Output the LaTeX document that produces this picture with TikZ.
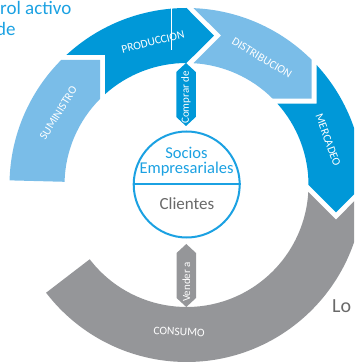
\documentclass[tikz,border=0pt]{standalone}
\usepackage{fontspec}
\setmainfont{Carlito}
\definecolor{dblue}{RGB}{0,152,216}
\definecolor{lblue}{RGB}{122,189,232}
\definecolor{cgrey}{RGB}{149,150,153}
\definecolor{tblue}{RGB}{27,161,226}
\definecolor{tgrey}{RGB}{105,105,105}
\newcommand\ringseg[3]{%
  \fill[#1] ({#2-2.31}:177) arc[start angle={#2-2.31}, end angle={#3}, radius=177]
    -- ({#3-10.42}:152) -- ({#3}:122)
    arc[start angle={#3}, end angle={#2-3.2}, radius=122]
    -- ({#2-13}:153.43) -- cycle;}
\begin{document}
\begin{tikzpicture}[x=1pt,y=1pt,
  seglbl/.style={text=white, inner sep=0pt, font=\fontsize{11.5}{13}\selectfont},
  arrlbl/.style={text=white, inner sep=0pt, rotate=90, font=\fontsize{11}{13}\selectfont}]
\useasboundingbox (0,0) rectangle (354,362);
\clip (0,0) rectangle (354,362);
\begin{scope}[shift={(186.5,177)}]
  % SUMINISTRO
  \fill[lblue] (178.5:177) arc[start angle=178.5, end angle=135, radius=177]
    -- (124.58:152) -- (135:122) arc[start angle=135, end angle=178.5, radius=122] -- cycle;
  \ringseg{dblue}{135}{90}
  \ringseg{lblue}{90}{45}
  \ringseg{dblue}{45}{0}
  % CONSUMO
  \fill[cgrey] (-2.31:177) arc[start angle=-2.31, end angle=-142.5, radius=177]
    -- (-142.5:122) arc[start angle=-142.5, end angle=-3.2, radius=122]
    -- (-13:153.43) -- cycle;
  \node[seglbl, rotate=58] (sum) at (150.7:147) {SUMINISTRO};
  \node[seglbl, rotate=14] (pro) at (103.2:147) {PRODUCCION};
  \node[seglbl, rotate=-31] (dis) at (59.3:147.7) {DISTRIBUCION};
  \node[seglbl, rotate=-70] (mer) at (17.6:148.5) {MERCADEO};
  \node[seglbl, rotate=-3] (con) at (-92.9:147) {CONSUMO};
\end{scope}
% white hairline
\draw[white, line width=0.8pt] (171.7,362) -- (171.7,312);
% double arrows
\fill[dblue] (186,299) -- (195.75,290) -- (195.75,245) -- (186,236) -- (176.25,245) -- (176.25,290) -- cycle;
\node[arrlbl] (buy) at (186,264.5) {Comprar de};
\fill[cgrey] (186.3,118) -- (196,109) -- (196,64) -- (186.3,55) -- (176.6,64) -- (176.6,109) -- cycle;
\node[arrlbl] (sell) at (186.3,80) {Vender a};
% hub
\node[circle, draw=tblue, line width=2pt, fill=white, minimum size=106pt, inner sep=0pt] (hub) at (186.7,177.5) {};
\draw[tblue, line width=2pt] (hub.west) -- (hub.east);
\node[anchor=base, inner sep=0pt, text=tblue, font=\fontsize{16.5}{14}\selectfont] (soc) at (186.5,203) {Socios};
\node[anchor=base, inner sep=0pt, text=tblue, font=\fontsize{16.5}{14}\selectfont] (emp) at (186.5,188.7) {Empresariales};
\node[anchor=base, inner sep=0pt, text=tgrey, font=\fontsize{17}{20}\selectfont] (cli) at (187,152) {Clientes};
% side texts
\node[anchor=base west, inner sep=0pt, text=tblue, font=\fontsize{19}{21}\selectfont] (t1) at (0,347) {rol activo};
\node[anchor=base west, inner sep=0pt, text=tblue, font=\fontsize{19}{21}\selectfont] (t2) at (-4,326) {de};
\node[anchor=base west, inner sep=0pt, text=tgrey, font=\fontsize{20}{24}\selectfont] (lo) at (332,49) {Lo};
\end{tikzpicture}
\end{document}
